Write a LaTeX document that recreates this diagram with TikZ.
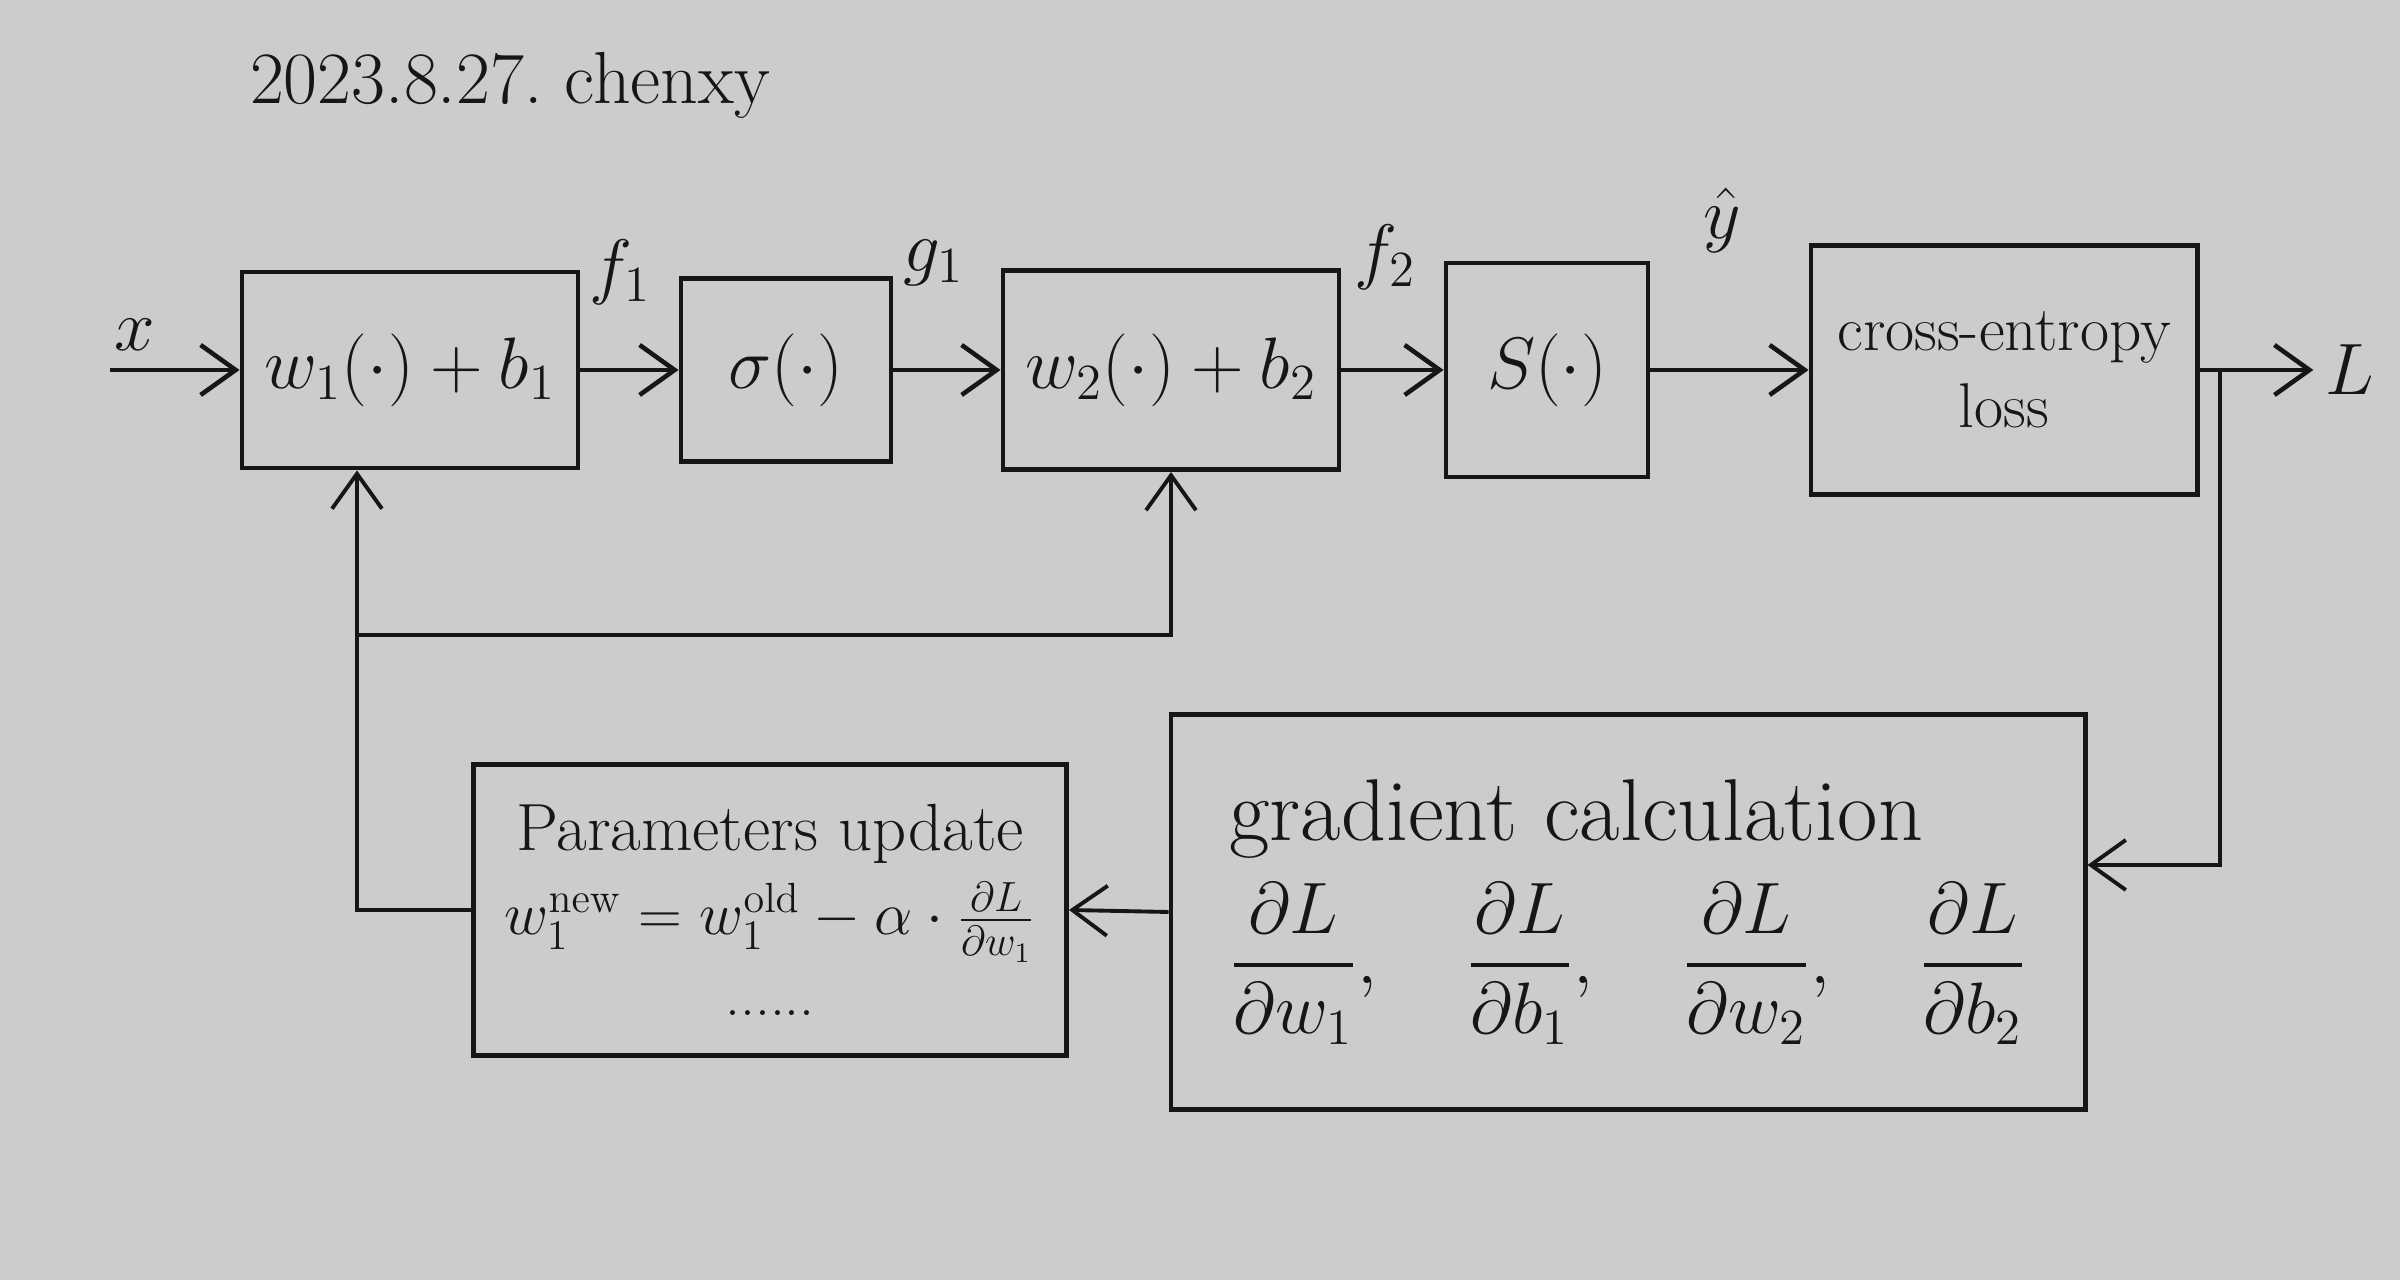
\documentclass[tikz,border=0pt]{standalone}
\usepackage{amsmath,amssymb}
\usepackage{xcolor}
\usetikzlibrary{arrows.meta,positioning,calc}
\definecolor{paper}{RGB}{203,204,204}
\definecolor{ink}{RGB}{22,22,22}
\newcommand{\dL}[1]{\dfrac{\partial L}{\partial #1}}

\begin{document}
\begin{tikzpicture}[every node/.style={font=\fontsize{21}{25}\selectfont,text=ink},
  blk/.style={draw=ink,line width=1.4pt,inner sep=2pt},
  flow/.style={-{Straight Barb[length=3.5mm,width=5mm]},draw=ink,line width=1.3pt},
  back/.style={-{Straight Barb[length=3.5mm,width=5mm]},draw=ink,line width=1.1pt}]
\fill[paper] (0,0) rectangle (24,12.8);
\node (title) at (5.1,11.95) {\fontsize{21}{25}\selectfont 2023.8.27.\ chenxy};
% forward pass
\node[blk,minimum width=3.36cm,minimum height=1.96cm] (lin1) at (4.10,9.1) {$w_1(\cdot)+b_1$};
\node[blk,minimum width=2.10cm,minimum height=1.83cm] (sig) at (7.86,9.1) {$\sigma(\cdot)$};
\node[blk,minimum width=3.36cm,minimum height=1.99cm] (lin2) at (11.71,9.1) {$w_2(\cdot)+b_2$};
\node[blk,minimum width=2.02cm,minimum height=2.14cm] (soft) at (15.47,9.1) {$S(\cdot)$};
\node[blk,minimum width=3.86cm,minimum height=2.49cm,align=center,font=\fontsize{18}{22}\selectfont] (loss) at (20.04,9.1) {cross-entropy\\loss};
\node (L) at (23.5,9.1) {$L$};
\coordinate (xin) at (1.1,9.1);
\coordinate (split) at (22.2,9.1);
\draw[flow] (xin) -- (lin1.west);
\draw[flow] (lin1) -- (sig);
\draw[flow] (sig) -- (lin2);
\draw[flow] (lin2) -- (soft);
\draw[flow] (soft) -- (loss);
\draw[flow] (loss.east) -- (L.west);
\node at (1.35,9.45) {$x$};
\node at (6.2,10.08) {$f_1$};
\node at (9.34,10.17) {$g_1$};
\node at (13.85,10.23) {$f_2$};
\node at (17.22,10.6) {$\hat{y}$};
% backward pass
\node[blk,minimum width=9.14cm,minimum height=3.95cm,align=left,font=\fontsize{22}{26}\selectfont] (grad) at (16.28,3.68)
  {{\fontsize{25}{30}\selectfont gradient calculation}\\[6pt] $\dL{w_1},\quad\dL{b_1},\quad\dL{w_2},\quad\dL{b_2}$};
\node[blk,minimum width=5.93cm,minimum height=2.91cm,align=center,font=\fontsize{17}{21}\selectfont] (upd) at (7.70,3.70)
  {{\fontsize{19}{23}\selectfont Parameters update}\\[3pt] $w_1^{\mathrm{new}}=w_1^{\mathrm{old}}-\alpha\cdot\frac{\partial L}{\partial w_1}$\\[2pt] ......};
\coordinate (ret) at (22.2,4.15);
\coordinate (fb) at (3.57,3.70);
\coordinate (jn) at (3.57,6.45);
\draw[back] (split) -- (ret) -- (ret -| grad.east);
\draw[back] (grad.west) -- (upd.east);
\draw[back] (upd.west) -- (fb) -- (fb |- lin1.south);
\draw[back] (jn) -| (lin2.south);
\end{tikzpicture}
\end{document}
